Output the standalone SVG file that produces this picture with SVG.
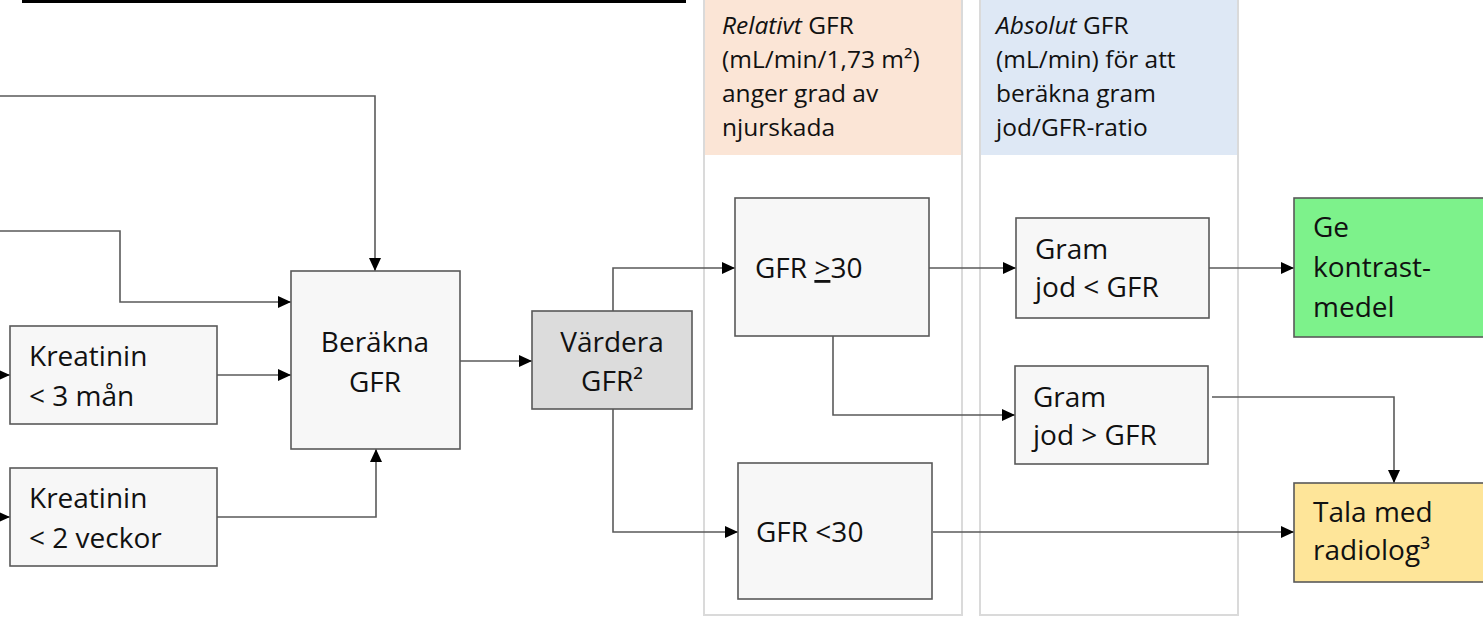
<svg xmlns="http://www.w3.org/2000/svg" width="1483" height="619" viewBox="0 0 1483 619">
<style>
.box{fill:#f7f7f7;stroke:#595959;stroke-width:1.6}
.t{font-family:"Open Sans","Liberation Sans",sans-serif;font-size:28px;fill:#111111}
.h{font-family:"Open Sans","Liberation Sans",sans-serif;font-size:24.5px;fill:#111111}
.c{fill:none;stroke:#5a5a5a;stroke-width:1.6}
.panel{fill:#ffffff;stroke:#dadada;stroke-width:2}
</style>
<defs>
<marker id="arr" markerUnits="userSpaceOnUse" markerWidth="14" markerHeight="12" refX="13" refY="6" orient="auto">
<path d="M0,0 L13,6 L0,12 z" fill="#000"/>
</marker>
</defs>
<rect x="0" y="0" width="1483" height="619" fill="#ffffff"/>
<rect x="22" y="-8" width="664" height="11" fill="#000"/>
<g id="panel-relativt">
<rect class="panel" x="704" y="-4" width="258" height="619"/>
<rect x="705" y="0" width="256" height="155" fill="#fbe5d6"/>
<text class="h" x="722" y="34"><tspan font-style="italic">Relativt</tspan> GFR</text>
<text class="h" x="722" y="68">(mL/min/1,73 m²)</text>
<text class="h" x="722" y="102">anger grad av</text>
<text class="h" x="722" y="136">njurskada</text>
</g>
<g id="panel-absolut">
<rect class="panel" x="980" y="-4" width="258" height="619"/>
<rect x="981" y="0" width="256" height="155" fill="#dee8f5"/>
<text class="h" x="996" y="34"><tspan font-style="italic">Absolut</tspan> GFR</text>
<text class="h" x="996" y="68">(mL/min) för att</text>
<text class="h" x="996" y="102">beräkna gram</text>
<text class="h" x="996" y="136">jod/GFR-ratio</text>
</g>
<g id="connectors">
<path class="c" d="M0,96 H375 V271" marker-end="url(#arr)"/>
<path class="c" d="M0,231 H120 V302 H291" marker-end="url(#arr)"/>
<path class="c" d="M-5,375 H10" marker-end="url(#arr)"/>
<path class="c" d="M-5,517 H10" marker-end="url(#arr)"/>
<path class="c" d="M217,375 H291" marker-end="url(#arr)"/>
<path class="c" d="M217,517 H376 V449" marker-end="url(#arr)"/>
<path class="c" d="M460,361 H532" marker-end="url(#arr)"/>
<path class="c" d="M613,311 V268 H735" marker-end="url(#arr)"/>
<path class="c" d="M613,409 V532 H738" marker-end="url(#arr)"/>
<path class="c" d="M929,268 H1016" marker-end="url(#arr)"/>
<path class="c" d="M833,336 V415 H1015" marker-end="url(#arr)"/>
<path class="c" d="M1209,268 H1294" marker-end="url(#arr)"/>
<path class="c" d="M1212,397 H1394 V483" marker-end="url(#arr)"/>
<path class="c" d="M933,532 H1294" marker-end="url(#arr)"/>
</g>
<g id="kreatinin-3man">
<rect class="box" x="10" y="326" width="207" height="98"/>
<text class="t" x="29" y="366">Kreatinin</text>
<text class="t" x="29" y="406">&lt; 3 mån</text>
</g>
<g id="kreatinin-2veckor">
<rect class="box" x="10" y="468" width="207" height="98"/>
<text class="t" x="29" y="508">Kreatinin</text>
<text class="t" x="29" y="548">&lt; 2 veckor</text>
</g>
<g id="berakna-gfr">
<rect class="box" x="291" y="271" width="169" height="178"/>
<text class="t" x="375" y="352" text-anchor="middle">Beräkna</text>
<text class="t" x="375" y="392" text-anchor="middle">GFR</text>
</g>
<g id="vardera-gfr">
<rect class="box" x="532" y="311" width="160" height="98" style="fill:#dcdcdc"/>
<text class="t" x="612" y="352" text-anchor="middle">Värdera</text>
<text class="t" x="612" y="391" text-anchor="middle">GFR²</text>
</g>
<g id="gfr-ge30">
<rect class="box" x="735" y="198" width="194" height="138"/>
<text class="t" x="755" y="278">GFR <tspan text-decoration="underline">&gt;</tspan>30</text>
</g>
<g id="gfr-lt30">
<rect class="box" x="738" y="463" width="194" height="136"/>
<text class="t" x="756" y="542">GFR &lt;30</text>
</g>
<g id="gram-lt">
<rect class="box" x="1016" y="218" width="193" height="100"/>
<text class="t" x="1035" y="259">Gram</text>
<text class="t" x="1035" y="297">jod &lt; GFR</text>
</g>
<g id="gram-gt">
<rect class="box" x="1015" y="366" width="193" height="98"/>
<text class="t" x="1033" y="407">Gram</text>
<text class="t" x="1033" y="445">jod &gt; GFR</text>
</g>
<g id="ge-kontrastmedel">
<rect x="1294" y="198" width="200" height="139" fill="#7df28b" stroke="#595959" stroke-width="1.6"/>
<text class="t" x="1313" y="237">Ge</text>
<text class="t" x="1313" y="277">kontrast-</text>
<text class="t" x="1313" y="317">medel</text>
</g>
<g id="tala-med-radiolog">
<rect x="1294" y="483" width="200" height="99" fill="#fee599" stroke="#595959" stroke-width="1.6"/>
<text class="t" x="1313" y="522">Tala med</text>
<text class="t" x="1313" y="560">radiolog³</text>
</g>
</svg>
